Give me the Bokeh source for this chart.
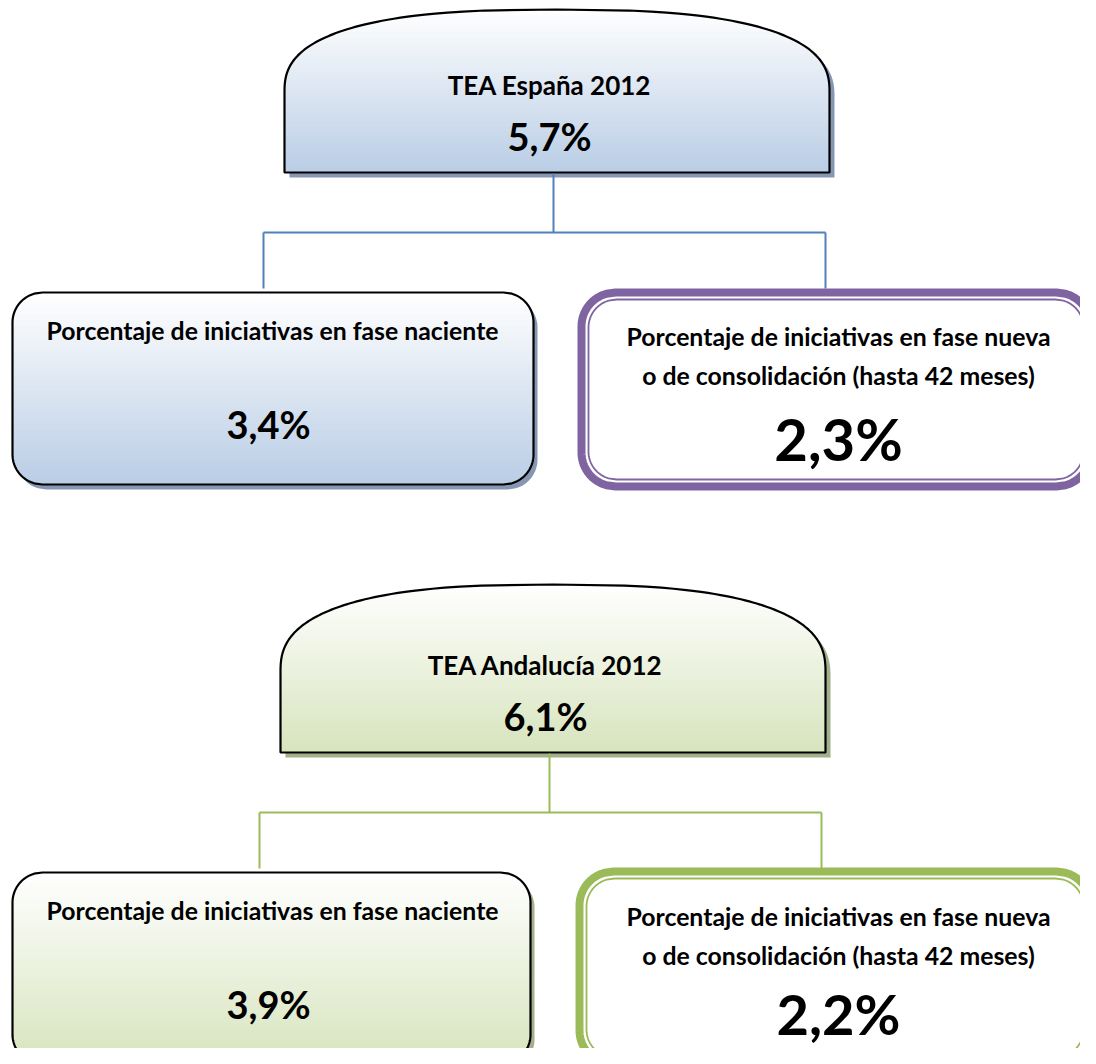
import numpy as np
from bokeh.plotting import figure
from bokeh.models import Range1d
from bokeh.core.properties import value
from bokeh.embed import file_html
from bokeh.resources import INLINE

# ---------------- data ----------------
regions = ["TEA España 2012", "TEA Andalucía 2012"]
tea_values = ["5,7%", "6,1%"]
naciente_values = ["3,4%", "3,9%"]
nueva_values = ["2,3%", "2,2%"]
label_naciente = "Porcentaje de iniciativas en fase naciente"
label_nueva = ["Porcentaje de iniciativas en fase nueva", "o de consolidación (hasta 42 meses)"]

# ---------------- styles ----------------
grad_bottom = ["#B9CDE5", "#D7E4BD"]
shadow_col = ["#8597B2", "#A4AF8C"]
accent = ["#4F81BD", "#9BBB59"]
frame_col = ["#8064A2", "#9BBB59"]
panel_dy = [0, 580]
panel_dx = [0, -4]
big_dy = [0, -5]
big_size = ["58px", "56px"]
FONT = "Lato"

p = figure(width=1080, height=1048, x_range=Range1d(0, 1080), y_range=Range1d(1048, 0),
           output_backend="svg", toolbar_location=None, min_border=0)
p.axis.visible = False
p.grid.visible = False
p.outline_line_color = None
p.background_fill_color = "white"


def mix(c1, c2, t):
    a = np.array([int(c1[i:i + 2], 16) for i in (1, 3, 5)], float)
    b = np.array([int(c2[i:i + 2], 16) for i in (1, 3, 5)], float)
    c = a + (b - a) * t
    return "#%02x%02x%02x" % tuple(int(round(v)) for v in c)


def rr_half(x0, y0, x1, y1, r):
    cx = (x0 + x1) / 2
    a = (x1 - x0) / 2

    def hw(y):
        if y < y0 + r:
            d = y0 + r - y
        elif y > y1 - r:
            d = y - (y1 - r)
        else:
            return a
        d = min(d, r)
        return a - r + np.sqrt(max(r * r - d * d, 0))
    return cx, hw


def dome_half(x0, ytop, x1, yside, n=2.6):
    cx = (x0 + x1) / 2
    a = (x1 - x0) / 2
    b = yside - ytop

    def hw(y):
        if y >= yside:
            return a
        t = min((yside - y) / b, 1.0)
        return a * max(1 - t ** n, 0) ** (1 / n)
    return cx, hw


def outline(cx, hw, ytop, ybot, m=160):
    ys = np.linspace(ytop, ybot, m)
    xl = [cx - hw(y) for y in ys]
    xr = [cx + hw(y) for y in ys]
    return xl + xr[::-1], list(ys) + list(ys[::-1])


def gradient(cx, hw, ytop, ybot, c_top, c_bot, nb=70):
    xs_all, ys_all, cols = [], [], []
    edges = np.linspace(ytop, ybot, nb + 1)
    for i in range(nb):
        ya, yb = edges[i], min(edges[i + 1] + 0.8, ybot)
        ys = np.linspace(ya, yb, 5)
        xl = [cx - hw(y) for y in ys]
        xr = [cx + hw(y) for y in ys]
        xs_all.append(xl + xr[::-1])
        ys_all.append(list(ys) + list(ys[::-1]))
        cols.append(mix(c_top, c_bot, (i + 0.5) / nb))
    p.patches(xs_all, ys_all, fill_color=cols, line_color=None)


def shape(cx, hw, ytop, ybot, c_bot, shadow, sh=(5, 5)):
    xs, ys = outline(cx, hw, ytop, ybot)
    p.patch([x + sh[0] for x in xs], [y + sh[1] for y in ys], fill_color=shadow, line_color=None)
    gradient(cx, hw, ytop, ybot, "#FFFFFF", c_bot)
    p.patch(xs, ys, fill_color=None, line_color="black", line_width=2.2)


def txt(x, y, t, size):
    p.text(x=x, y=y, text=t, text_font=value(FONT), text_font_style="bold",
           text_font_size=size, text_align="center", text_baseline="middle", text_color="black")


for k in range(2):
    dy, dx = panel_dy[k], panel_dx[k]
    # dome
    ytop = 9 + dy if k == 0 else 4 + dy
    cx, hw = dome_half(284 + dx, ytop, 829 + dx, 92 + dy)
    shape(cx, hw, ytop, 172 + dy, grad_bottom[k], shadow_col[k])
    # connectors
    p.line([553 + dx, 553 + dx], [173 + dy, 232 + dy], line_color=accent[k], line_width=2)
    p.line([263 + dx, 825 + dx], [232 + dy, 232 + dy], line_color=accent[k], line_width=2)
    p.line([263 + dx, 263 + dx], [232 + dy, 288 + dy], line_color=accent[k], line_width=2)
    p.line([825 + dx, 825 + dx], [232 + dy, 288 + dy], line_color=accent[k], line_width=2)
    # left box
    lx0, lx1 = 12, 533 - (3 if k else 0)
    cxl, hwl = rr_half(lx0, 292 + dy, lx1, 484 + dy, 30)
    shape(cxl, hwl, 292 + dy, 484 + dy, grad_bottom[k], shadow_col[k], sh=(4, 5))
    # right box (double frame)
    rx0, rx1 = 577 + dx / 2, 1094
    ry0, ry1 = 288 + dy - (1 if k else 0), 490 + dy - (2 if k else 0)
    cxr, hwr = rr_half(rx0 + 4, ry0 + 4, rx1 - 4, ry1 - 4, 34)
    xs, ys = outline(cxr, hwr, ry0 + 4, ry1 - 4)
    p.patch(xs, ys, fill_color="white", line_color=frame_col[k], line_width=8)
    cxi, hwi = rr_half(rx0 + 11, ry0 + 11, rx1 - 11, ry1 - 11, 28)
    xs, ys = outline(cxi, hwi, ry0 + 11, ry1 - 11)
    p.patch(xs, ys, fill_color=None, line_color=frame_col[k], line_width=1.8)

    # texts
    tcx = 549 + dx
    txt([tcx], [84 + dy], [regions[k]], "26px")
    txt([tcx], [135 + dy], [tea_values[k]], "38px")
    txt([272], [330 + dy], [label_naciente], "24.8px")
    txt([268], [423 + dy], [naciente_values[k]], "38px")
    txt([838, 838], [336 + dy, 375 + dy], label_nueva, "24.8px")
    txt([838], [438 + dy + big_dy[k]], [nueva_values[k]], big_size[k])

open("out.html", "w").write(file_html(p, INLINE))
